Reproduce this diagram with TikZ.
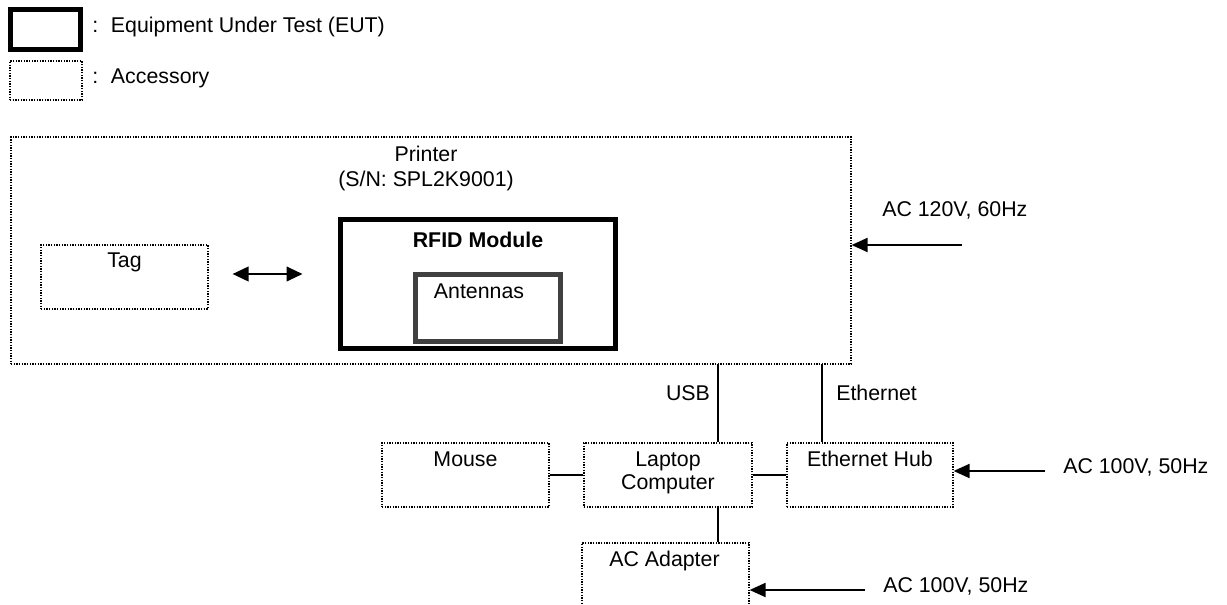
\documentclass[tikz,border=0pt]{standalone}
\usepackage{fontspec}
\setmainfont{Liberation Sans}
\usetikzlibrary{arrows.meta}
\usetikzlibrary{calc}
\usetikzlibrary{fit}

\begin{document}
\begin{tikzpicture}[x=0.75pt, y=-0.75pt,
    font=\fontsize{16}{19}\selectfont,
    acc/.style={draw, line width=0.9pt, dash pattern=on 0.9pt off 1.1pt, inner sep=0},
    eut/.style={draw, line width=4pt, inner sep=0},
    wire/.style={line width=1.5pt},
    feed/.style={line width=1.5pt, -{Triangle[length=12pt, width=10.5pt]}},
    txt/.style={inner sep=0, anchor=base}]
  \useasboundingbox (0,0) rectangle (1227,605);
  \clip (0,0) rectangle (1227,605);

  % legend
  \node [eut, fit={(10.5,9.5) (80.5,49.5)}] (legeut) {};
  \node [acc, fit={(10,61) (82,100)}] (legacc) {};
  \node [txt, anchor=base west] (legeuttext) at (92,33) {:\hspace{0.6em}Equipment Under Test (EUT)};
  \node [txt, anchor=base west] (legacctext) at (92,84) {:\hspace{0.6em}Accessory};

  % printer with tag and module
  \node [acc, fit={(11,137) (851,364)}] (printer) {};
  \node [txt] (printername) at (426,162) {Printer};
  \node [txt] (printersn) at (426,187) {(S/N: SPL2K9001)};
  \node [acc, fit={(41,245) (208,309)}] (tag) {};
  \node [txt] (tagtext) at ($(tag.north)+(0,23)$) {Tag};
  \node [eut, line width=3.75pt, fit={(340,220) (615,349)}] (rfid) {};
  \node [txt, font=\fontsize{16}{19}\selectfont\bfseries] (rfidtext) at (478,248) {RFID Module};
  \node [eut, draw=black!75, line width=3.4pt, fit={(415.5,274.5) (560.5,341.5)}] (antennas) {};
  \node [txt] (antennastext) at (479,299) {Antennas};
  \draw [wire, {Triangle[length=12pt, width=11pt]}-{Triangle[length=12pt, width=11pt]}]
    ($(tag.east)+(24,-3)$) -- ($(tag.east -| rfid.west)+(-35,-3)$);

  % peripherals
  \node [acc, fit={(382,443) (549,507)}] (mouse) {};
  \node [acc, fit={(584,443) (752,507)}] (laptop) {};
  \node [acc, fit={(787,443) (953,507)}] (hub) {};
  \node [acc, fit={(582,543) (749,640)}] (adapter) {};
  \node [txt] (mousetext) at ($(mouse.north)+(0,24)$) {Mouse};
  \node [txt] (laptoptext) at ($(laptop.north)+(0,24)$) {Laptop};
  \node [txt] (computertext) at ($(laptop.north)+(0,47)$) {Computer};
  \node [txt] (hubtext) at ($(hub.north)+(0,24)$) {Ethernet Hub};
  \node [txt] (adaptertext) at ($(adapter.north)+(-1,24)$) {AC Adapter};

  \coordinate (usbtop) at (718,364);
  \coordinate (ethtop) at (822,364);
  \draw [wire] (usbtop) -- (usbtop |- laptop.north);
  \draw [wire] (ethtop) -- (ethtop |- hub.north);
  \draw [wire] (mouse) -- (laptop);
  \draw [wire] (laptop) -- (hub);
  \draw [wire] (laptop.south -| usbtop) -- (adapter.north -| usbtop);
  \node [txt] (usbtext) at (688,401) {USB};
  \node [txt, anchor=base west] (ethtext) at (836,401) {Ethernet};

  % power inputs
  \coordinate (acprinter) at (962,245);
  \coordinate (achub) at (1045,471);
  \coordinate (acadapter) at (865,590);
  \draw [feed] (acprinter) -- (acprinter -| printer.east);
  \draw [feed] (achub) -- (achub -| hub.east);
  \draw [feed] (acadapter) -- (acadapter -| adapter.east);
  \node [txt, anchor=base west] (acprintertext) at (882,217) {AC 120V, 60Hz};
  \node [txt, anchor=base west] (achubtext) at (1063,473) {AC 100V, 50Hz};
  \node [txt, anchor=base west] (acadaptertext) at (883,592) {AC 100V, 50Hz};
\end{tikzpicture}
\end{document}
